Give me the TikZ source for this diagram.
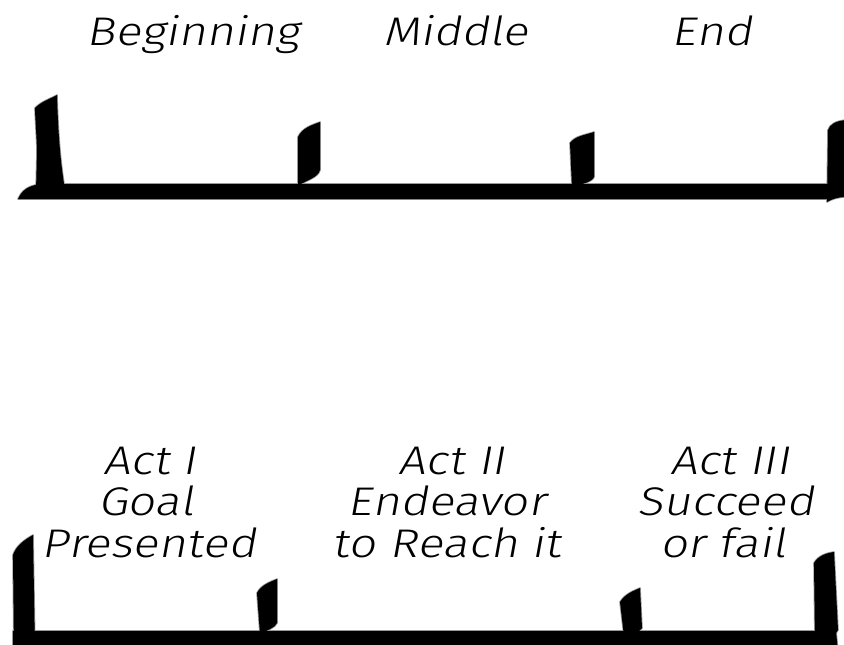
\documentclass[tikz,border=0pt]{standalone}
\usepackage{fontspec}
\newfontfamily\handfont[FakeSlant=0.18,FakeStretch=1.2]{Fira Sans Light}
\begin{document}
\begin{tikzpicture}[x=0.75pt,y=-0.75pt,
  halo/.style={draw=black!40, line width=1.2pt, line join=round},
  ink/.style={fill=black},
  hand/.style={font=\handfont\fontsize{30}{36}\selectfont, inner sep=0pt, anchor=base}]
\useasboundingbox (0,0) rectangle (844,644);
\begin{scope}
\clip (0,0) rectangle (844,644);

% ---- upper timeline: Beginning / Middle / End ----
\path[save path=\barTop] (18,199) .. controls (22,190) and (28,186) .. (40,184)
  -- (828,184) -- (828,199) -- cycle;
\path[save path=\postTopA] (36,192) -- (37,150) .. controls (36,125) and (35,115) .. (35,108)
  .. controls (42,101) and (50,99) .. (57,95)
  .. controls (58,130) and (60,160) .. (65,190) -- cycle;
\path[save path=\postTopB] (298,186) -- (298,137) .. controls (302,128) and (312,125) .. (320,122)
  -- (320,170) .. controls (318,178) and (306,180) .. (298,186) -- cycle;
\path[save path=\postTopC] (572,187) -- (570,143) .. controls (575,136) and (585,135) .. (594,132)
  -- (594,177) .. controls (592,182) and (582,184) .. (572,187) -- cycle;
\path[save path=\postTopD] (827,202) -- (828,130) .. controls (830,124) and (836,121) .. (846,120)
  -- (846,197) .. controls (838,197) and (832,199) .. (827,202) -- cycle;

% ---- lower timeline: three acts ----
\path[save path=\barLow] (13,631) -- (836,631) -- (838,652) -- (13,652) -- cycle;
\path[save path=\postLowA] (14,652) -- (13,555) .. controls (16,546) and (24,540) .. (33,535)
  -- (35,652) -- cycle;
\path[save path=\postLowB] (260,634) -- (257,593) .. controls (261,585) and (270,582) .. (277,579)
  -- (277,623) .. controls (275,628) and (267,630) .. (260,634) -- cycle;
\path[save path=\postLowC] (624,636) -- (620,602) .. controls (625,594) and (633,591) .. (640,588)
  -- (642,628) .. controls (640,632) and (632,634) .. (624,636) -- cycle;
\path[save path=\postLowD] (815,640) -- (814,563) .. controls (818,556) and (826,553) .. (834,552)
  -- (838,630) .. controls (836,636) and (828,639) .. (819,642) -- cycle;

% soft grey edge under every stroke, then the black ink on top
\path[halo, use path=\barTop];   \path[halo, use path=\postTopA];
\path[halo, use path=\postTopB]; \path[halo, use path=\postTopC];
\path[halo, use path=\postTopD];
\path[halo, use path=\barLow];   \path[halo, use path=\postLowA];
\path[halo, use path=\postLowB]; \path[halo, use path=\postLowC];
\path[halo, use path=\postLowD];

\path[ink, use path=\barTop];   \path[ink, use path=\postTopA];
\path[ink, use path=\postTopB]; \path[ink, use path=\postTopC];
\path[ink, use path=\postTopD];
\path[ink, use path=\barLow];   \path[ink, use path=\postLowA];
\path[ink, use path=\postLowB]; \path[ink, use path=\postLowC];
\path[ink, use path=\postLowD];
\end{scope}

% ---- headings ----
\node[hand] (beginning) at (193,45) {Beginning};
\node[hand] (middle)    at (456,45) {Middle};
\node[hand] (end)       at (712,45) {End};

% ---- act captions ----
\node[hand] (act1a) at (150,474) {Act I};
\node[hand] (act1b) at (146,515) {Goal};
\node[hand] (act1c) at (149,557) {Presented};

\node[hand] (act2a) at (452,474) {Act II};
\node[hand] (act2b) at (447,515) {Endeavor};
\node[hand] (act2c) at (447,557) {to Reach it};

\node[hand] (act3a) at (730,474) {Act III};
\node[hand] (act3b) at (726,515) {Succeed};
\node[hand] (act3c) at (723,557) {or fail};
\end{tikzpicture}
\end{document}
